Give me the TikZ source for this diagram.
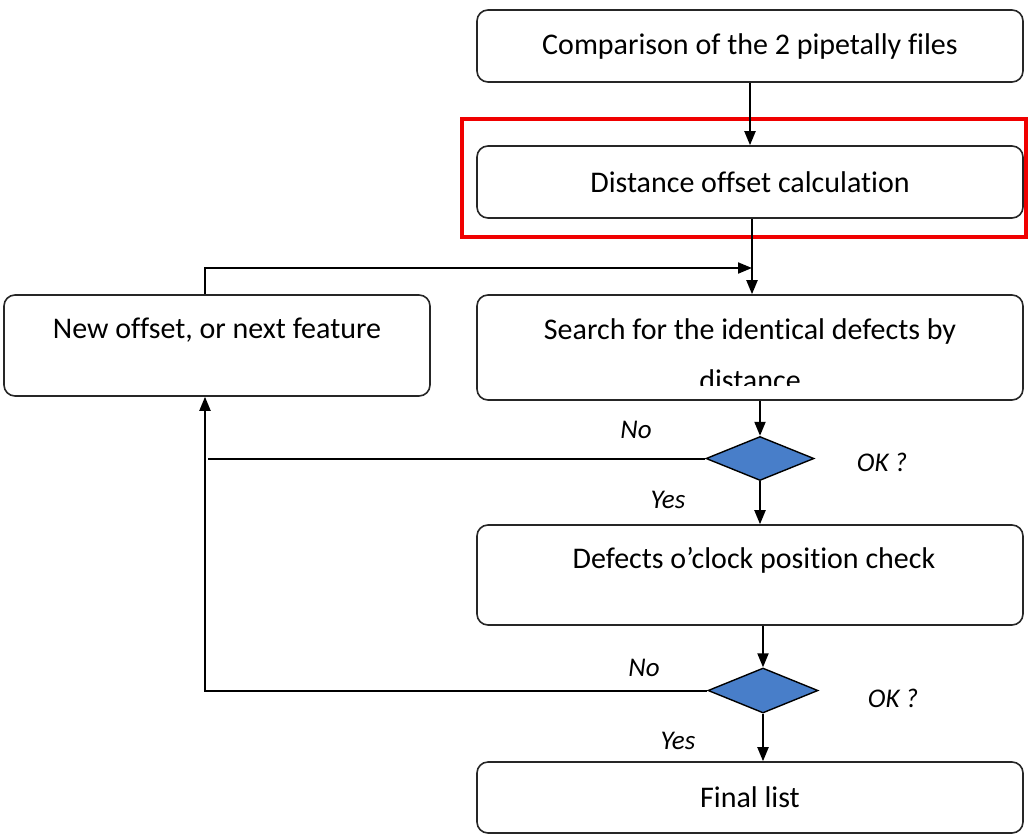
\documentclass[tikz,border=0pt]{standalone}
\usepackage{fontspec}
\setmainfont{Carlito}[Ligatures={NoCommon}]
\usetikzlibrary{shapes.geometric,arrows.meta}
\definecolor{dblue}{RGB}{72,126,201}
\definecolor{redframe}{RGB}{240,0,0}
\tikzset{
  box/.style={draw=black!85, line width=1.6pt, rounded corners=11pt, inner sep=0pt},
  txt/.style={font=\fontsize{30}{44}\selectfont, inner sep=0pt, anchor=center},
  lbl/.style={font=\fontsize{27}{30}\selectfont\itshape, inner sep=0pt},
  dia/.style={diamond, draw=black, line width=1.4pt, fill=dblue, minimum width=108pt, minimum height=44pt, inner sep=0pt},
  conn/.style={line width=2pt, draw=black},
  arr/.style={conn, -{Triangle[length=14pt,width=11pt]}}
}
\begin{document}
\begin{tikzpicture}[x=1pt,y=-1pt]
\useasboundingbox (0,0) rectangle (1028,836);
% boxes
\node[box, minimum width=546pt, minimum height=72pt] (b1) at (750,46) {};
\node[txt] (t1) at (750,46) {Comparison of the 2 pipetally files};
\node[box, minimum width=546pt, minimum height=72pt] (b2) at (750,182) {};
\node[txt] (t2) at (750,182) {Distance offset calculation};
\node[box, minimum width=546pt, minimum height=105pt] (b3) at (750,347.5) {};
\node[txt] (t3) at (750,331) {Search for the identical defects by};
\begin{scope}
  \clip (480,300) rectangle (1020,385.5);
  \node[txt] (t3b) at (750,380) {distance};
\end{scope}
\node[box, minimum width=426pt, minimum height=101pt] (bl) at (217,345.5) {};
\node[txt] (tl) at (217,330) {New offset, or next feature};
\node[box, minimum width=546pt, minimum height=100pt] (b4) at (750,575) {};
\node[txt] (t4) at (754,560) {Defects o’clock position check};
\node[box, minimum width=546pt, minimum height=71pt] (b5) at (750,797.5) {};
\node[txt] (t5) at (750,797) {Final list};
% diamonds
\node[dia] (d1) at (760,458.5) {};
\node[dia, minimum width=110pt, minimum height=45pt] (d2) at (763,690.5) {};
% labels
\node[lbl] (no1) at (636,430) {No};
\node[lbl] (ok1) at (882,462) {OK ?};
\node[lbl] (yes1) at (668,500) {Yes};
\node[lbl] (no2) at (644,668) {No};
\node[lbl] (ok2) at (893,698) {OK ?};
\node[lbl] (yes2) at (678,741) {Yes};
% red frame
\draw[redframe, line width=4pt] (462,119) rectangle (1025.5,237);
% connector helpers
\coordinate (lx) at (205,0);
\coordinate (jn) at (752,268);
\coordinate (j1) at (208,458.5);
% connectors
\draw[arr] (b1.south) -- (b2.north);
\draw[arr] (b2.south -| jn) -- (b3.north -| jn);
\draw[arr] (bl.north -| lx) |- (jn);
\draw[arr] (d1.north |- b3.south) -- (d1.north);
\draw[conn] (d1.west) -- (j1);
\draw[arr] (d1.south) -- (d1.south |- b4.north);
\draw[arr] (d2.north |- b4.south) -- (d2.north);
\draw[arr] (d2.west) -| (bl.south -| lx);
\draw[arr] (d2.south) -- (d2.south |- b5.north);
\end{tikzpicture}
\end{document}
